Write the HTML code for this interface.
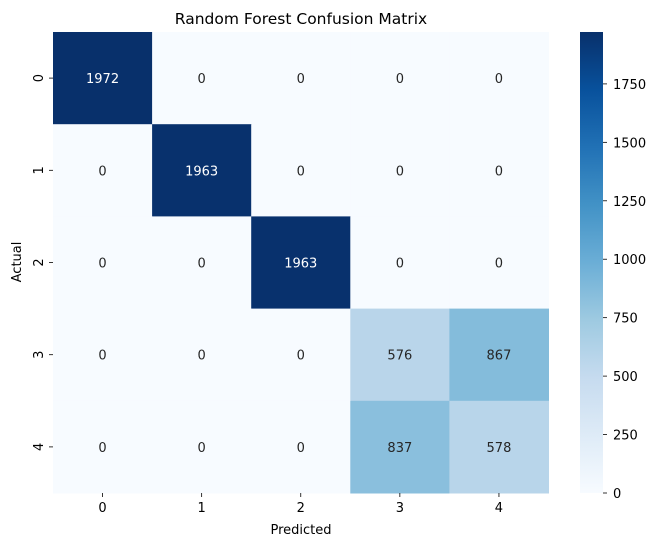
<!DOCTYPE html>
<html><head><meta charset="utf-8"><style>
body{margin:0;background:#fff;font-family:"Liberation Sans","DejaVu Sans",sans-serif}
</style></head><body>
<svg id="c" width="658" height="547" xmlns="http://www.w3.org/2000/svg" font-family="DejaVu Sans, Liberation Sans, sans-serif">
<defs><linearGradient id="cbg" x1="0" y1="1" x2="0" y2="0">
<stop offset="0" stop-color="#f7fbff"/><stop offset="0.125" stop-color="#deebf7"/><stop offset="0.25" stop-color="#c6dbef"/><stop offset="0.375" stop-color="#9ecae1"/><stop offset="0.5" stop-color="#6baed6"/><stop offset="0.625" stop-color="#4292c6"/><stop offset="0.75" stop-color="#2171b5"/><stop offset="0.875" stop-color="#08519c"/><stop offset="1" stop-color="#08306b"/>
</linearGradient></defs>
<text x="301" y="24" text-anchor="middle" font-size="15.5">Random Forest Confusion Matrix</text>
<g id="cells"></g>
<rect x="580" y="32" width="23" height="461" fill="url(#cbg)"/>
<g id="cb"></g>
<text x="301" y="534" text-anchor="middle" font-size="13">Predicted</text>
<text transform="translate(21,262) rotate(-90)" text-anchor="middle" font-size="13">Actual</text>
</svg>
<script>
const labels=["0","1","2","3","4"];
const matrix=[[1972,0,0,0,0],[0,1963,0,0,0],[0,0,1963,0,0],[0,0,0,576,867],[0,0,0,837,578]];
const cbTicks=[0,250,500,750,1000,1250,1500,1750];
const vmax=1972;
const L=53,R=548.5,T=32,B=493,n=5;
const cw=(R-L)/n,ch=(B-T)/n;
const stops=["#f7fbff","#deebf7","#c6dbef","#9ecae1","#6baed6","#4292c6","#2171b5","#08519c","#08306b"].map(h=>[1,3,5].map(i=>parseInt(h.substr(i,2),16)));
function cmap(v){let t=Math.max(0,Math.min(1,v/vmax))*8;let i=Math.min(7,Math.floor(t));let f=t-i;const a=stops[i],b=stops[i+1];return a.map((x,k)=>Math.round(x+(b[k]-x)*f));}
const NS="http://www.w3.org/2000/svg";
function mk(tag,at,parent){const e=document.createElementNS(NS,tag);for(const k in at)e.setAttribute(k,at[k]);parent.appendChild(e);return e;}
const g=document.getElementById('cells'),svg=document.getElementById('c'),cb=document.getElementById('cb');
matrix.forEach((row,r)=>row.forEach((v,c)=>{
 const col=cmap(v);
 const rc=mk('rect',{x:L+c*cw,y:T+r*ch,width:cw+0.5,height:ch+0.5,fill:`rgb(${col})`},g);
 
 
 const lum=(0.2126*col[0]+0.7152*col[1]+0.0722*col[2])/255;
 const tx=mk('text',{x:L+(c+0.5)*cw,y:T+(r+0.5)*ch+5,'text-anchor':'middle','font-size':'13',fill:lum>0.408?'#262626':'#fff'},g);
 tx.textContent=v;
 
 
}));
labels.forEach((l,i)=>{
 const x=L+(i+0.5)*cw;
 mk('line',{x1:x,x2:x,y1:B,y2:B+4,stroke:'#000','stroke-width':0.8},svg);
 const t=mk('text',{x:x,y:B+19,'text-anchor':'middle','font-size':'13'},svg);t.textContent=l;
 
 
 const y=T+(i+0.5)*ch;
 mk('line',{x1:L-4,x2:L,y1:y,y2:y,stroke:'#000','stroke-width':0.8},svg);
 const u=mk('text',{transform:`translate(${L-10},${y}) rotate(-90)`,'text-anchor':'middle','font-size':'13'},svg);u.textContent=l;
 
 
});
cbTicks.forEach(v=>{
 const y=B-(B-T)*v/vmax;
 mk('line',{x1:603,x2:607,y1:y,y2:y,stroke:'#000','stroke-width':0.8},cb);
 const t=mk('text',{x:613,y:y+5,'font-size':'13'},cb);t.textContent=v;
 
 
});
</script>
</body></html>
